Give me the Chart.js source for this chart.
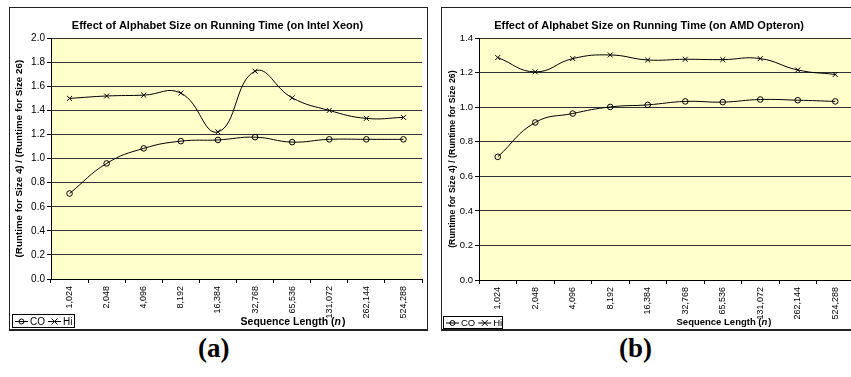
<!DOCTYPE html>
<html>
<head>
<meta charset="utf-8">
<script src="https://cdn.jsdelivr.net/npm/chart.js@4"></script>
<style>
  body { margin: 0; background: #fff; width: 851px; height: 377px; overflow: hidden; position: relative; }
  .box { position: absolute; top: 7px; border: 1px solid #222; border-bottom-width: 2px; background: #fff; }
  #boxA { left: 9px; width: 417px; height: 321px; }
  #boxB { left: 441px; width: 417px; height: 321px; }
  canvas { display: block; }
  .cap { position: absolute; top: 333px; font: bold 27px "Liberation Serif", serif; }
</style>
</head>
<body>
<div class="box" id="boxA"><canvas id="chartA" width="417" height="321"></canvas></div>
<div class="box" id="boxB"><canvas id="chartB" width="417" height="321"></canvas></div>
<div class="cap" style="left:198px">(a)</div>
<div class="cap" style="left:619px">(b)</div>
<script>
// data
const sequenceLengths = ["1,024", "2,048", "4,096", "8,192", "16,384", "32,768", "65,536", "131,072", "262,144", "524,288"];
const xeonCO = [0.71, 0.96, 1.085, 1.145, 1.155, 1.178, 1.137, 1.16, 1.16, 1.16];
const xeonHi = [1.50, 1.52, 1.527, 1.544, 1.222, 1.726, 1.505, 1.40, 1.334, 1.342];
const opteronCO = [0.713, 0.912, 0.964, 1.002, 1.014, 1.034, 1.03, 1.045, 1.041, 1.034];
const opteronHi = [1.288, 1.205, 1.282, 1.303, 1.274, 1.278, 1.276, 1.282, 1.216, 1.19];
const xeonYMax = 2.0;
const opteronYMax = 1.4;
const yStep = 0.2;

const FONT = "'Liberation Sans', Arial, sans-serif";

// yellow plot area, x title, legend box
const excelLook = {
  id: "excelLook",
  beforeDraw(chart) {
    const { ctx, chartArea: a } = chart;
    ctx.save();
    ctx.fillStyle = "#FFFFCC";
    ctx.fillRect(a.left, a.top, a.right - a.left, a.bottom - a.top);
    ctx.restore();
  },
  afterDraw(chart, args, opts) {
    const ctx = chart.ctx;
    ctx.save();
    // x axis title: "Sequence Length (n)"
    ctx.fillStyle = "#000";
    ctx.textBaseline = "middle";
    const f = opts.xTitleSize;
    const p1 = "Sequence Length (", p2 = "n", p3 = ")";
    ctx.font = "bold " + f + "px " + FONT;
    const w1 = ctx.measureText(p1).width, w3 = ctx.measureText(p3).width;
    ctx.font = "italic bold " + f + "px " + FONT;
    const w2 = ctx.measureText(p2).width + 1;
    let x = opts.xTitleX - (w1 + w2 + w3) / 2;
    const y = opts.xTitleY;
    ctx.textAlign = "left";
    ctx.font = "bold " + f + "px " + FONT;
    ctx.fillText(p1, x, y);
    ctx.font = "italic bold " + f + "px " + FONT;
    ctx.fillText(p2, x + w1, y);
    ctx.font = "bold " + f + "px " + FONT;
    ctx.fillText(p3, x + w1 + w2, y);

    // legend
    const L = opts.legend;
    ctx.fillStyle = "#fff";
    ctx.fillRect(L.x, L.y, L.w, L.h);
    ctx.strokeStyle = "#000";
    ctx.lineWidth = 1;
    ctx.strokeRect(L.x + 0.5, L.y + 0.5, L.w - 1, L.h - 1);
    ctx.font = L.size + "px " + FONT;
    const cy = L.y + L.h / 2;
    let lx = L.x + 3;
    chart.data.datasets.forEach((ds) => {
      ctx.beginPath();
      ctx.moveTo(lx, cy + 0.5);
      ctx.lineTo(lx + 13, cy + 0.5);
      ctx.stroke();
      const mx = lx + 6.5;
      ctx.beginPath();
      if (ds.pointStyle === "circle") {
        ctx.arc(mx, cy + 0.5, 2.5, 0, Math.PI * 2);
      } else {
        ctx.moveTo(mx - 3, cy - 2.5); ctx.lineTo(mx + 3, cy + 3.5);
        ctx.moveTo(mx + 3, cy - 2.5); ctx.lineTo(mx - 3, cy + 3.5);
      }
      ctx.stroke();
      ctx.fillStyle = "#000";
      ctx.fillText(ds.label, lx + 15, cy + 1);
      lx += 15 + ctx.measureText(ds.label).width + 3;
    });
    ctx.restore();
  },
};

function makeChart(id, title, co, hi, yMax, s) {
  new Chart(document.getElementById(id), {
    type: "line",
    data: {
      labels: sequenceLengths,
      datasets: [
        {
          label: "CO",
          data: co,
          borderColor: "#000",
          borderWidth: 1,
          tension: 0.45,
          pointStyle: "circle",
          pointRadius: 2.8,
          pointBorderColor: "#000",
          pointBackgroundColor: "rgba(0,0,0,0)",
          pointBorderWidth: 1,
        },
        {
          label: "Hi",
          data: hi,
          borderColor: "#000",
          borderWidth: 1,
          tension: 0.45,
          pointStyle: "crossRot",
          pointRadius: 3.5,
          pointBorderColor: "#000",
          pointBorderWidth: 1,
        },
      ],
    },
    options: {
      responsive: false,
      animation: false,
      layout: { padding: { top: 0, left: 0, right: s.padRight, bottom: 0 } },
      plugins: {
        legend: { display: false },
        tooltip: { enabled: false },
        title: {
          display: true,
          text: title,
          color: "#000",
          font: { family: FONT, size: s.titleSize, weight: "bold" },
          padding: { top: 11, bottom: 6 },
        },
        excelLook: {
          xTitleX: s.xTitleX,
          xTitleY: 314,
          xTitleSize: s.xTitleSize,
          legend: s.legend,
        },
      },
      scales: {
        x: {
          offset: true,
          grid: { offset: true, drawOnChartArea: false, drawTicks: true, tickLength: 4, tickColor: "#000" },
          border: { color: "#000", width: 1 },
          ticks: {
            color: "#000",
            minRotation: 90,
            maxRotation: 90,
            autoSkip: false,
            padding: 3,
            font: { family: FONT, size: s.xTickSize },
          },
          afterFit: (scale) => { scale.height = s.xHeight; },
        },
        y: {
          min: 0,
          max: yMax,
          grid: { color: "#333", tickLength: 4, tickColor: "#000" },
          border: { color: "#000", width: 1 },
          ticks: {
            stepSize: yStep,
            color: "#000",
            padding: 2,
            font: { family: FONT, size: s.yTickSize },
            callback: (v) => v.toFixed(1),
          },
          title: {
            display: true,
            text: "(Runtime for Size 4) / (Runtime for Size 26)",
            color: "#000",
            font: { family: FONT, size: s.yTitleSize, weight: "bold" },
            padding: { top: s.yTitlePad, bottom: 0 },
          },
          afterFit: (scale) => { scale.width = s.yWidth; },
        },
      },
    },
    plugins: [excelLook],
  });
}

makeChart("chartA", "Effect of Alphabet Size on Running Time (on Intel Xeon)", xeonCO, xeonHi, xeonYMax, {
  padRight: 2, yWidth: 41, xHeight: 50, titleSize: 11, yTitleSize: 9.8, yTitlePad: 3,
  xTickSize: 9, yTickSize: 10, xTitleX: 283, xTitleSize: 10.5,
  legend: { x: 2, y: 306, w: 63, h: 14, size: 10 },
});

makeChart("chartB", "Effect of Alphabet Size on Running Time (on AMD Opteron)", opteronCO, opteronHi, opteronYMax, {
  padRight: 3, yWidth: 37, xHeight: 49, titleSize: 11, yTitleSize: 8.8, yTitlePad: 5,
  xTickSize: 9, yTickSize: 9.5, xTitleX: 282, xTitleSize: 9.5,
  legend: { x: 1, y: 308, w: 60, h: 13, size: 9.5 },
});
</script>
</body>
</html>
